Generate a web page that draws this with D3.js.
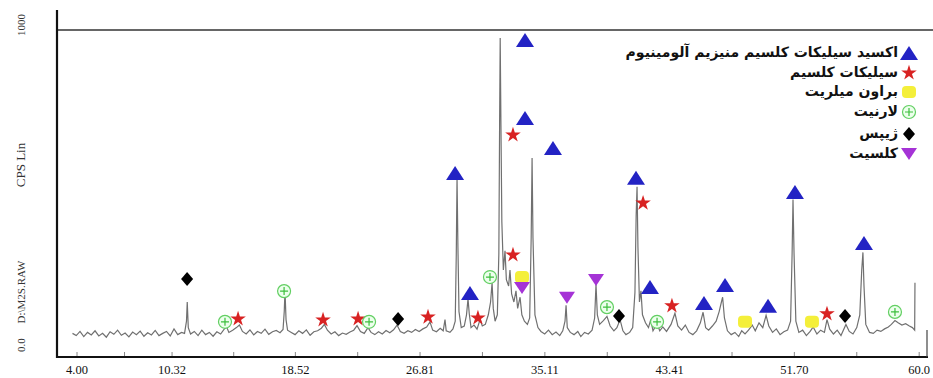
<!DOCTYPE html>
<html>
<head>
<meta charset="utf-8">
<script src="https://cdn.jsdelivr.net/npm/d3@7"></script>
<style>
  body { margin: 0; background: #fff; }
  svg { display: block; }
</style>
</head>
<body>
<svg id="chart" width="933" height="378"></svg>
<script>
// x ticks (2-theta)
const xTicks = [4.00, 10.32, 18.52, 26.81, 35.11, 43.41, 51.70, 60.0]
const xTickLabels = ['4.00', '10.32', '18.52', '26.81', '35.11', '43.41', '51.70', '60.0']

// y side labels
const yTop = '1000'
const yBottom = '0.0'
const yTitle = 'CPS Lin'
const fileName = 'D:\\M2S.RAW'

// measured pattern [2theta, counts]
const pattern = [
  [3.70,52],[3.95,45],[4.20,58],[4.45,42],[4.70,55],[4.95,47],[5.20,60],[5.45,44],[5.70,52],[5.95,40],
  [6.20,57],[6.45,49],[6.70,62],[6.95,46],[7.20,53],[7.45,41],[7.70,56],[7.95,48],[8.20,59],[8.45,43],
  [8.70,54],[8.95,47],[9.20,61],[9.45,45],[9.70,52],[9.95,58],[10.20,44],[10.45,66],[10.70,48],[10.95,55],
  [11.15,52],[11.28,90],[11.33,150],[11.40,70],[11.55,50],[11.80,58],[12.05,45],[12.30,62],[12.55,48],[12.80,55],
  [13.05,43],[13.30,57],[13.55,50],[13.80,66],[13.95,72],[14.10,55],[14.35,62],[14.60,70],[14.80,78],[15.00,58],
  [15.25,50],[15.50,63],[15.75,47],[16.00,58],[16.25,52],[16.50,65],[16.75,49],[17.00,57],[17.25,61],[17.50,54],
  [17.70,64],[17.78,120],[17.83,185],[17.90,95],[18.00,62],[18.25,55],[18.50,48],[18.75,60],[19.00,52],[19.25,63],
  [19.50,46],[19.75,57],[20.00,60],[20.25,68],[20.45,80],[20.65,62],[20.90,50],[21.15,57],[21.40,45],[21.65,53],
  [21.90,49],[22.15,56],[22.40,62],[22.62,76],[22.85,58],[23.10,52],[23.35,70],[23.55,55],[23.80,48],[24.05,57],
  [24.30,50],[24.55,61],[24.80,54],[25.05,63],[25.28,78],[25.50,58],[25.75,52],[26.00,60],[26.25,55],[26.50,64],
  [26.75,58],[27.00,66],[27.25,72],[27.47,88],[27.65,62],[27.90,57],[28.15,68],[28.35,60],[28.47,95],[28.55,60],
  [28.80,55],[29.00,66],[29.15,90],[29.22,300],[29.27,540],[29.33,320],[29.40,120],[29.55,70],[29.75,75],[29.90,110],
  [30.00,160],[30.08,115],[30.20,70],[30.40,78],[30.60,65],[30.80,95],[30.95,75],[31.15,80],[31.35,110],[31.50,150],
  [31.60,210],[31.68,130],[31.80,90],[31.95,110],[32.05,300],[32.10,700],[32.14,975],[32.19,700],[32.25,400],[32.35,250],
  [32.46,310],[32.55,220],[32.70,200],[32.79,250],[32.90,175],[33.05,150],[33.19,185],[33.30,130],[33.46,165],[33.58,110],
  [33.75,90],[33.95,80],[34.10,100],[34.20,350],[34.26,600],[34.32,350],[34.45,110],[34.65,70],[34.85,58],[35.10,50],
  [35.35,62],[35.60,48],[35.85,56],[36.10,45],[36.30,60],[36.45,90],[36.52,140],[36.60,70],[36.80,55],[37.05,48],
  [37.30,58],[37.50,42],[37.75,55],[38.00,50],[38.25,62],[38.42,100],[38.51,205],[38.60,110],[38.75,80],[39.00,92],
  [39.24,105],[39.45,75],[39.70,60],[39.90,70],[40.11,95],[40.30,60],[40.50,48],[40.75,55],[40.95,70],[41.10,180],
  [41.18,420],[41.24,510],[41.30,320],[41.40,150],[41.50,185],[41.60,110],[41.80,85],[42.00,70],[42.15,95],[42.30,60],
  [42.57,82],[42.75,60],[42.95,72],[43.20,58],[43.50,80],[43.76,115],[43.95,75],[44.20,62],[44.45,78],[44.70,55],
  [44.95,48],[45.20,60],[45.45,85],[45.63,118],[45.80,70],[46.00,62],[46.25,75],[46.50,90],[46.70,120],[46.85,150],
  [46.93,165],[47.05,100],[47.25,60],[47.50,48],[47.75,55],[48.00,42],[48.20,60],[48.42,50],[48.65,62],[48.90,78],
  [49.10,60],[49.35,85],[49.60,70],[49.82,108],[50.00,75],[50.25,55],[50.50,66],[50.75,48],[51.00,57],[51.25,62],
  [51.45,90],[51.55,300],[51.61,470],[51.68,300],[51.80,90],[52.00,55],[52.25,62],[52.50,45],[52.75,58],[52.95,72],
  [53.20,50],[53.45,62],[53.70,55],[53.87,95],[54.05,65],[54.30,50],[54.55,62],[54.80,45],[55.13,80],[55.35,58],
  [55.60,50],[55.85,70],[56.05,110],[56.18,250],[56.26,305],[56.33,200],[56.45,80],[56.70,55],[56.95,52],[57.20,62],
  [57.45,58],[57.70,66],[57.95,72],[58.15,80],[58.39,92],[58.60,85],[58.85,78],[59.10,82],[59.35,75],[59.55,70],
  [59.70,62],[59.72,210]
]

// phase names (legend order)
const phaseNames = [
  'اکسید سیلیکات کلسیم منیزیم آلومینیوم',
  'سیلیکات کلسیم',
  'براون میلریت',
  'لارنیت',
  'ژیپس',
  'کلسیت'
]

// peak markers per phase [2theta, counts]
const aluSilicate = [[29.14,553],[30.13,178],[33.79,969],[33.79,725],[35.65,631],[41.17,538],
  [42.10,197],[45.69,147],[47.09,203],[49.95,138],[51.74,494],[56.33,334]]
const caSilicate = [[14.71,97],[20.36,94],[22.69,97],[27.34,103],[30.66,100],[32.99,672],
  [32.99,297],[41.64,459],[43.56,138],[53.87,113]]
const brownmillerite = [[33.59,228],[48.42,88],[52.87,88]]
const larnite = [[13.84,88],[17.77,184],[23.42,88],[31.46,228],[39.24,134],[42.57,88],[58.39,119]]
const gypsum = [[11.32,222],[25.35,97],[40.04,106],[55.07,106]]
const calcite = [[33.59,194],[36.58,163],[38.51,219]]

const svg = d3.select('#chart')

const x = d3.scaleLinear().domain([2.67, 60.52]).range([57, 927])
const y = d3.scaleLinear().domain([0, 1000]).range([350, 30])

// marker shapes
const triUp = {draw(c){ c.moveTo(0,-7); c.lineTo(9,7); c.lineTo(-9,7); c.closePath() }}
const triDown = {draw(c){ c.moveTo(0,6); c.lineTo(8,-6); c.lineTo(-8,-6); c.closePath() }}
const diamond = {draw(c){ c.moveTo(0,-7); c.lineTo(6,0); c.lineTo(0,7); c.lineTo(-6,0); c.closePath() }}

const phases = [
  {data: aluSilicate, kind: 'sym', type: triUp, fill: '#2323c4'},
  {data: caSilicate, kind: 'sym', type: d3.symbolStar, size: 75, fill: '#d82222'},
  {data: brownmillerite, kind: 'yellow'},
  {data: larnite, kind: 'green'},
  {data: gypsum, kind: 'sym', type: diamond, fill: '#000'},
  {data: calcite, kind: 'sym', type: triDown, fill: '#a533d6'}
]

function drawMarker(g, p){
  if (p.kind === 'sym') {
    g.append('path')
      .attr('d', d3.symbol().type(p.type).size(p.size || 64)())
      .attr('fill', p.fill)
  } else if (p.kind === 'yellow') {
    g.append('rect').attr('x', -7).attr('y', -6).attr('width', 14).attr('height', 12)
      .attr('rx', 4).attr('fill', '#f4ef3a')
  } else {
    g.append('circle').attr('r', 6.5).attr('fill', '#ecffec')
      .attr('stroke', '#62cf62').attr('stroke-width', 1.2)
    g.append('path').attr('d', 'M-4,0H4M0,-4V4')
      .attr('stroke', '#3cbf3c').attr('stroke-width', 1.2)
  }
}

// pattern
svg.append('path')
  .datum(pattern)
  .attr('fill', 'none')
  .attr('stroke', '#707070')
  .attr('stroke-width', 1.2)
  .attr('d', d3.line().x(d => x(d[0])).y(d => y(d[1])))

// frame
svg.append('line').attr('x1', 57).attr('x2', 933).attr('y1', y(1000)).attr('y2', y(1000))
  .attr('stroke', '#333').attr('stroke-width', 1.6)
svg.append('line').attr('x1', 57).attr('x2', 57).attr('y1', 10).attr('y2', 358)
  .attr('stroke', '#111').attr('stroke-width', 2.2)
svg.append('line').attr('x1', 56).attr('x2', 928).attr('y1', 357).attr('y2', 357)
  .attr('stroke', '#111').attr('stroke-width', 2.2)
svg.append('line').attr('x1', 927).attr('x2', 927).attr('y1', 330).attr('y2', 357)
  .attr('stroke', '#444').attr('stroke-width', 1.2)

// x axis
const minor = d3.pairs(xTicks).map(([a, b]) => (a + b) / 2)
svg.selectAll('.minor').data(minor.concat(xTicks)).enter().append('line')
  .attr('x1', d => x(d)).attr('x2', d => x(d))
  .attr('y1', 356).attr('y2', 352)
  .attr('stroke', '#888').attr('stroke-width', 1)

svg.selectAll('.xlab').data(xTicks).enter().append('text')
  .attr('x', d => x(d)).attr('y', 374)
  .attr('text-anchor', 'middle')
  .attr('font-family', 'Liberation Serif, serif')
  .attr('font-size', 12.5)
  .attr('fill', '#111')
  .text((d, i) => xTickLabels[i])

// y side labels
const yText = [[yTop, 25], [yTitle, 165], [fileName, 292], [yBottom, 345]]
svg.selectAll('.ylab').data(yText).enter().append('text')
  .attr('transform', d => 'translate(22,' + d[1] + ') rotate(-90)')
  .attr('text-anchor', 'middle')
  .attr('dominant-baseline', 'middle')
  .attr('font-family', 'Liberation Serif, serif')
  .attr('font-size', d => d[0] === yTitle ? 13 : 11)
  .attr('fill', '#333')
  .text(d => d[0])

// peak markers
phases.forEach(p => {
  p.data.forEach(d => {
    const g = svg.append('g').attr('transform', 'translate(' + x(d[0]) + ',' + y(d[1]) + ')')
    drawMarker(g, p)
  })
})

// legend
const legendY = [53, 73, 92, 112, 134, 154]
phases.forEach((p, i) => {
  const g = svg.append('g').attr('transform', 'translate(909,' + legendY[i] + ')')
  drawMarker(g, p)
  svg.append('text')
    .attr('x', 898).attr('y', legendY[i])
    .attr('text-anchor', 'end')
    .attr('dominant-baseline', 'middle')
    .attr('font-family', 'DejaVu Sans, sans-serif')
    .attr('font-weight', 'bold')
    .attr('font-size', 14)
    .attr('fill', '#111')
    .text(phaseNames[i])
})
</script>
</body>
</html>
